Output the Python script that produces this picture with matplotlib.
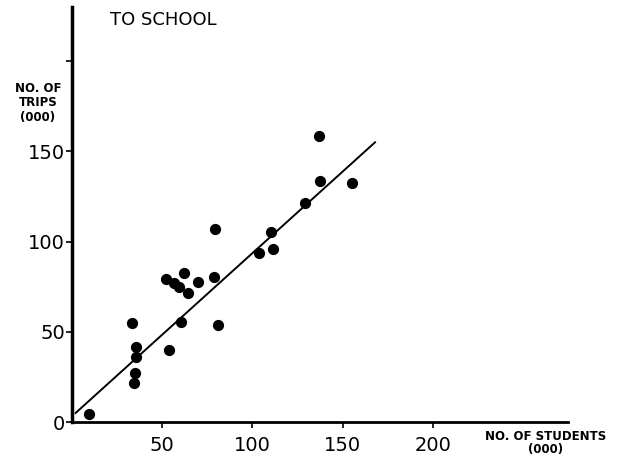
import matplotlib
matplotlib.use("Agg")
import matplotlib.pyplot as plt

students = [9.6, 33.5, 35.4, 35.4, 34.8, 34.4, 53.9, 60.4, 52.1, 56.3, 59.4, 64.1,
            61.9, 69.6, 78.5, 79.1, 80.7, 103.5, 110.4, 111.5, 129.0, 137.0, 137.5, 155.4]
trips = [4.7, 54.7, 41.5, 35.8, 26.9, 21.7, 39.8, 55.4, 79.1, 77.2, 75.0, 71.7,
         82.4, 77.6, 80.6, 106.9, 53.6, 93.9, 105.4, 96.1, 121.5, 158.3, 133.3, 132.4]
fit_x = [2, 168]
fit_y = [5, 155]
x_ticks = [50, 100, 150, 200]
y_ticks = [0, 50, 100, 150, 200]
y_tick_labels = ["0", "50", "100", "150", ""]

W, H = 638, 468
fig = plt.figure(figsize=(W / 100, H / 100), dpi=100)
ax = fig.add_axes([72 / W, 1 - 422 / H, (568 - 72) / W, (422 - 7) / H])

ax.scatter(students, trips, s=50, color="black", zorder=3)
ax.plot(fit_x, fit_y, color="black", lw=1.4)

ax.set_xlim(0, 275)
ax.set_ylim(0, 230)
ax.set_xticks(x_ticks)
ax.set_xticklabels([str(v) for v in x_ticks])
ax.set_yticks(y_ticks)
ax.set_yticklabels(y_tick_labels)
ax.tick_params(axis="both", labelsize=14, length=4, width=1.2, direction="out")
ax.tick_params(axis="x", pad=6)
ax.tick_params(axis="y", pad=1)

for s in ["top", "right"]:
    ax.spines[s].set_visible(False)
ax.spines["left"].set_linewidth(2.5)
ax.spines["bottom"].set_linewidth(2)

fig.text(110 / W, 1 - 20 / H, "TO SCHOOL", fontsize=13, va="center", ha="left")
fig.text(38 / W, 1 - 103 / H, "NO. OF\nTRIPS\n(000)", fontsize=8.5, fontweight="bold",
         ha="center", va="center", linespacing=1.1)
fig.text(546 / W, 1 - 443 / H, "NO. OF STUDENTS\n(000)", fontsize=8.5, fontweight="bold",
         ha="center", va="center", linespacing=1.0)

fig.savefig("out.png", dpi=100)
